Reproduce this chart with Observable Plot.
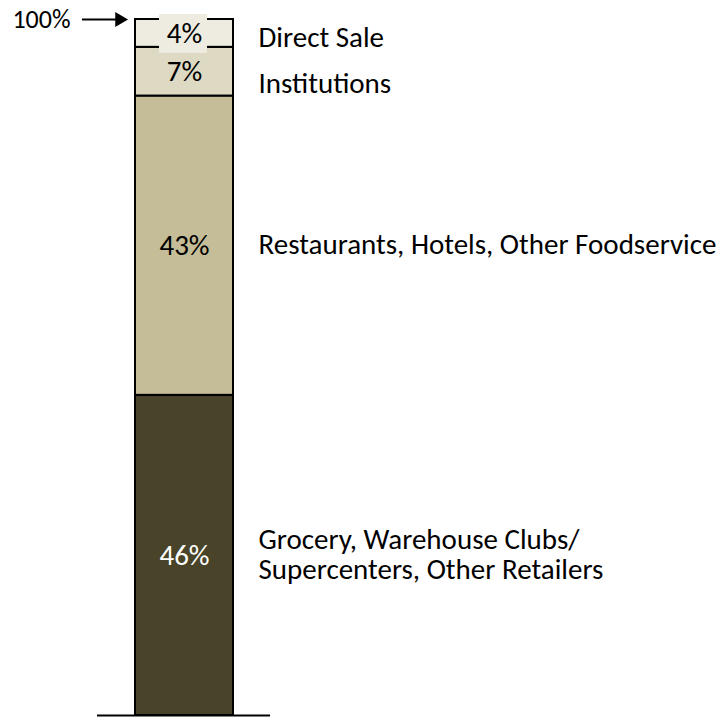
<!DOCTYPE html>
<html><head><meta charset="utf-8">
<script src="https://cdn.jsdelivr.net/npm/d3@7"></script>
<script src="https://cdn.jsdelivr.net/npm/@observablehq/plot@0.6"></script>
<style>body{margin:0;background:#fff}</style>
</head><body><div id="chart"></div>
<script>
const categories = ["Grocery, Warehouse Clubs/\nSupercenters, Other Retailers", "Restaurants, Hotels, Other Foodservice", "Institutions", "Direct Sale"];
const shares = [46, 43, 7, 4];
const colors = ["#494429", "#c4bd97", "#ddd9c3", "#eeece1"];
const labelColors = ["#ffffff", "#000000", "#000000", "#000000"];
const topLabel = "100%";

const data = categories.map((c, i) => ({bar: "Total", cat: c, value: shares[i], color: colors[i], lc: labelColors[i], label: shares[i] + "%"}));
const font = "Carlito, Lato, sans-serif";
const fs = 29;
const stk = (o) => Plot.stackY({x: "bar", y: "value", order: null, ...o});
const only = (v) => (d) => d.value === v ? d.cat : "";

const chart = Plot.plot({
  width: 724, height: 717,
  marginTop: 19, marginBottom: 2, marginLeft: 135, marginRight: 491,
  x: {type: "band", domain: ["Total"], padding: 0, axis: null},
  y: {domain: [0, 100], axis: null},
  color: {type: "identity"},
  style: {fontFamily: font, fontSize: fs + "px", background: "white", overflow: "visible"},
  marks: [
    Plot.barY(data, stk({fill: "color", stroke: "#000", strokeWidth: 2})),
    Plot.barY(data, stk({fill: "color", fillOpacity: d => d.value === 4 ? 1 : 0, insetTop: -5, insetBottom: -6, insetLeft: 24, insetRight: 26})),
    Plot.text(data, stk({text: "label", fill: "lc", fontSize: fs})),
    Plot.text(data, stk({text: only(46), textAnchor: "start", dx: 74, dy: -1, fill: "#000", fontSize: fs, lineHeight: 1.03})),
    Plot.text(data, stk({text: only(43), textAnchor: "start", dx: 74, dy: -1, fill: "#000", fontSize: fs})),
    Plot.text(data, stk({text: only(7), textAnchor: "start", dx: 74, dy: 12, fill: "#000", fontSize: fs})),
    Plot.text(data, stk({text: only(4), textAnchor: "start", dx: 74, dy: 4, fill: "#000", fontSize: fs})),
    Plot.ruleY([0], {stroke: "#000", strokeWidth: 2, insetLeft: -38, insetRight: -37}),
    Plot.ruleY([100], {stroke: "#000", strokeWidth: 2, insetLeft: -53, insetRight: 116}),
    Plot.dot([{bar: "Total", v: 100}], {x: "bar", y: "v", symbol: "triangle", rotate: 90, r: 5.5, fill: "#000", stroke: null, dx: -65}),
    Plot.text([{bar: "Total", v: 100, t: topLabel}], {x: "bar", y: "v", text: "t", textAnchor: "end", dx: -114, fontSize: 26, fill: "#000"})
  ]
});
document.getElementById("chart").appendChild(chart);
</script>
</body></html>
